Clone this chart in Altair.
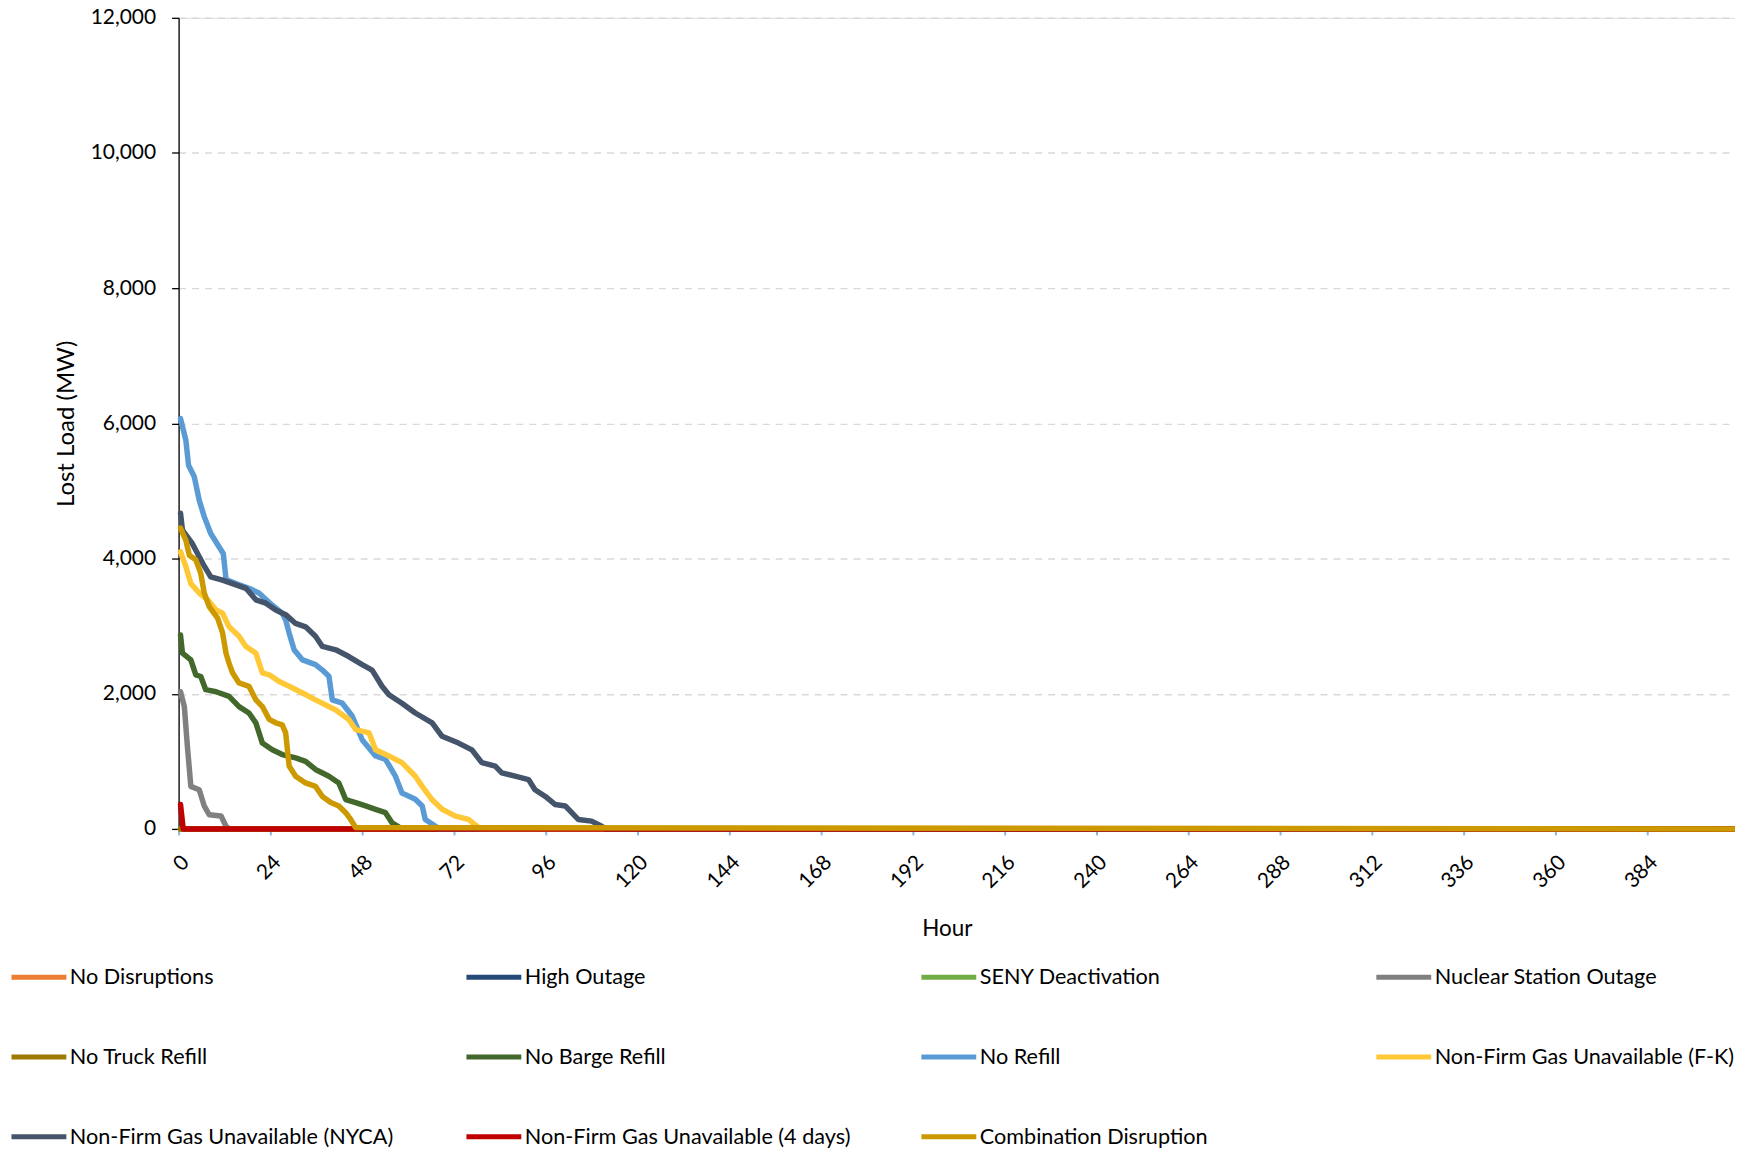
import altair as alt
import pandas as pd

series = [
    "No Disruptions", "High Outage", "SENY Deactivation", "Nuclear Station Outage",
    "No Truck Refill", "No Barge Refill", "No Refill", "Non-Firm Gas Unavailable (F-K)",
    "Non-Firm Gas Unavailable (NYCA)", "Non-Firm Gas Unavailable (4 days)", "Combination Disruption",
]
colors = [
    "#ED7D31", "#264A78", "#70AD47", "#808080",
    "#9E7A00", "#43682B", "#5B9BD5", "#FFC837",
    "#44546A", "#C00000", "#CC9A00",
]

h_no_disruptions = [0.5, 407]
v_no_disruptions = [0, 0]
h_high_outage = [0.5, 407]
v_high_outage = [0, 0]
h_seny = [0.5, 407]
v_seny = [0, 0]
h_nuclear = [0.5, 1.5, 2.3, 3.2, 5.4, 6.7, 8.0, 11.1, 12.4, 13.2, 407]
v_nuclear = [2030, 1810, 1220, 630, 580, 340, 210, 190, 40, 0, 0]
h_no_truck = [0.5, 407]
v_no_truck = [0, 0]
h_no_barge = [0.5, 1.0, 3.2, 4.5, 5.8, 7.1, 9.8, 13.2, 15.8, 18.4, 20.2, 21.9, 24.5, 27.1,
              30.6, 33.2, 35.8, 39.3, 41.9, 43.7, 46.3, 48.9, 51.5, 54.1, 55.8, 58.4, 407]
v_no_barge = [2870, 2600, 2500, 2280, 2255, 2060, 2030, 1960, 1810, 1715, 1570, 1270, 1170, 1100,
              1050, 1000, 880, 780, 680, 435, 390, 340, 290, 240, 90, 0, 0]
h_no_refill = [0.5, 1.9, 2.6, 4.1, 5.4, 6.7, 8.4, 10.6, 11.7, 12.4, 15.0, 18.4, 21.0, 24.5, 27.1,
               28.0, 28.9, 30.2, 32.4, 35.8, 37.6, 39.3, 40.2, 42.8, 45.4, 48.0, 51.5, 54.1, 56.7,
               58.4, 61.9, 63.7, 64.5, 67.2, 68.0, 407]
v_no_refill = [6070, 5750, 5380, 5210, 4860, 4620, 4370, 4170, 4070, 3690, 3630, 3560, 3490, 3310, 3190,
               3090, 2900, 2650, 2500, 2430, 2350, 2260, 1910, 1860, 1670, 1320, 1080, 1030, 780,
               530, 440, 340, 140, 40, 0, 0]
h_fk = [0.5, 1.9, 3.2, 5.4, 7.6, 9.8, 11.5, 13.2, 15.8, 17.6, 20.2, 21.9, 23.7, 26.3, 28.9, 32.4,
        35.8, 41.1, 44.5, 46.3, 49.8, 51.5, 55.0, 58.4, 61.9, 63.7, 66.3, 68.9, 72.4, 75.8, 78.0, 79.0, 407]
v_fk = [4100, 3880, 3630, 3490, 3390, 3240, 3190, 2990, 2850, 2700, 2600, 2310, 2280, 2180, 2110, 2010,
        1910, 1760, 1620, 1470, 1420, 1170, 1080, 980, 780, 630, 430, 290, 190, 140, 40, 0, 0]
h_nyca = [0.5, 1.0, 3.6, 6.3, 8.4, 11.5, 15.0, 17.6, 20.2, 22.8, 25.4, 28.0, 30.6, 33.2, 35.8, 37.6,
          41.1, 44.5, 48.0, 50.6, 53.2, 55.0, 58.4, 61.9, 66.3, 68.9, 73.2, 76.7, 79.3, 82.8, 84.5,
          88.0, 91.5, 93.2, 95.9, 98.5, 101.1, 102.8, 104.5, 108.0, 110.6, 111.5, 407]
v_nyca = [4670, 4420, 4220, 3930, 3730, 3680, 3610, 3560, 3390, 3340, 3240, 3170, 3040, 2990, 2850, 2700,
          2650, 2550, 2430, 2350, 2110, 1985, 1860, 1715, 1570, 1370, 1270, 1170, 980, 930, 830,
          780, 730, 580, 480, 360, 340, 240, 140, 115, 40, 0, 0]
h_4days = [0.5, 1.2, 407]
v_4days = [360, 0, 0]
h_combo = [0.5, 1.9, 2.8, 4.5, 5.8, 6.7, 8.0, 10.2, 11.5, 12.4, 13.2, 14.1, 15.8, 18.4, 20.2, 21.9,
           23.7, 25.4, 27.1, 28.0, 28.9, 30.6, 33.2, 35.8, 37.6, 39.8, 41.9, 43.7, 45.0, 46.3, 407]
v_combo = [4450, 4270, 4050, 3980, 3780, 3490, 3290, 3120, 2900, 2600, 2450, 2310, 2160, 2110, 1910, 1810,
           1620, 1570, 1540, 1420, 930, 780, 680, 630, 480, 390, 340, 240, 140, 20, 0]

x_ticks = [0, 24, 48, 72, 96, 120, 144, 168, 192, 216, 240, 264, 288, 312, 336, 360, 384]
y_ticks = [0, 2000, 4000, 6000, 8000, 10000, 12000]

all_series = [
    (h_no_disruptions, v_no_disruptions), (h_high_outage, v_high_outage), (h_seny, v_seny),
    (h_nuclear, v_nuclear), (h_no_truck, v_no_truck), (h_no_barge, v_no_barge),
    (h_no_refill, v_no_refill), (h_fk, v_fk), (h_nyca, v_nyca), (h_4days, v_4days),
    (h_combo, v_combo),
]

rows = []
for name, (hs, vs) in zip(series, all_series):
    for i, (h, v) in enumerate(zip(hs, vs)):
        rows.append({"Scenario": name, "Hour": h, "Lost Load": v, "idx": i})
df = pd.DataFrame(rows)

FONT = "Lato"

chart = alt.Chart(df).mark_line(strokeWidth=5.5, strokeJoin="round", strokeCap="round").encode(
    x=alt.X(
        "Hour:Q",
        scale=alt.Scale(domain=[0, 407], nice=False, zero=False),
        axis=alt.Axis(
            title="Hour", values=x_ticks, grid=False, domain=False,
            tickColor="#8DB4E2", tickSize=6, tickWidth=2,
            labelAngle=315, labelAlign="right", labelBaseline="middle",
            labelPadding=24, labelOffset=7, labelFont=FONT, labelFontSize=21,
            labelColor="#000000", labelOverlap=False, labelFlush=False,
            titleFont=FONT, titleFontSize=22.5, titleFontWeight="normal", titleColor="#000000",
            titleX=770, titleY=100, titleAlign="center", titleBaseline="middle", titleAngle=0,
        ),
    ),
    y=alt.Y(
        "Lost Load:Q",
        scale=alt.Scale(domain=[0, 12000], nice=False),
        axis=alt.Axis(
            title="Lost Load (MW)", values=y_ticks, format=",.0f",
            grid=True, gridColor="#D9D9D9", gridDash=[7, 6], gridWidth=1.4,
            domain=True, domainColor="#000000", domainWidth=1.3,
            tickColor="#000000", tickSize=7, tickWidth=1.3,
            labelPadding=16, labelFont=FONT, labelFontSize=21, labelColor="#000000",
            titleFont=FONT, titleFontSize=24, titleFontWeight="normal", titleColor="#000000",
            titleX=-112, titleY=406.5, titleAlign="center", titleBaseline="middle", titleAngle=270,
        ),
    ),
    color=alt.Color(
        "Scenario:N",
        sort=series,
        scale=alt.Scale(domain=series, range=colors),
        legend=alt.Legend(
            title=None, orient="none", legendX=-170, legendY=931.5, direction="horizontal",
            columns=4, gridAlign="all", columnPadding=60, rowPadding=38,
            symbolType="stroke", symbolSize=3025, symbolStrokeWidth=5,
            labelFont=FONT, labelFontSize=21.7, labelColor="#000000",
            labelOffset=1, labelLimit=500, padding=0,
        ),
    ),
    order=alt.Order("idx:Q"),
).properties(
    width=1560,
    height=813,
    autosize=alt.AutoSizeParams(type="none"),
    padding={"left": 171, "top": 8.5, "right": 0, "bottom": 320.5},
).configure_view(strokeWidth=0).configure(font=FONT)

chart.save("out.html", embed_options={"renderer": "svg", "actions": False})
